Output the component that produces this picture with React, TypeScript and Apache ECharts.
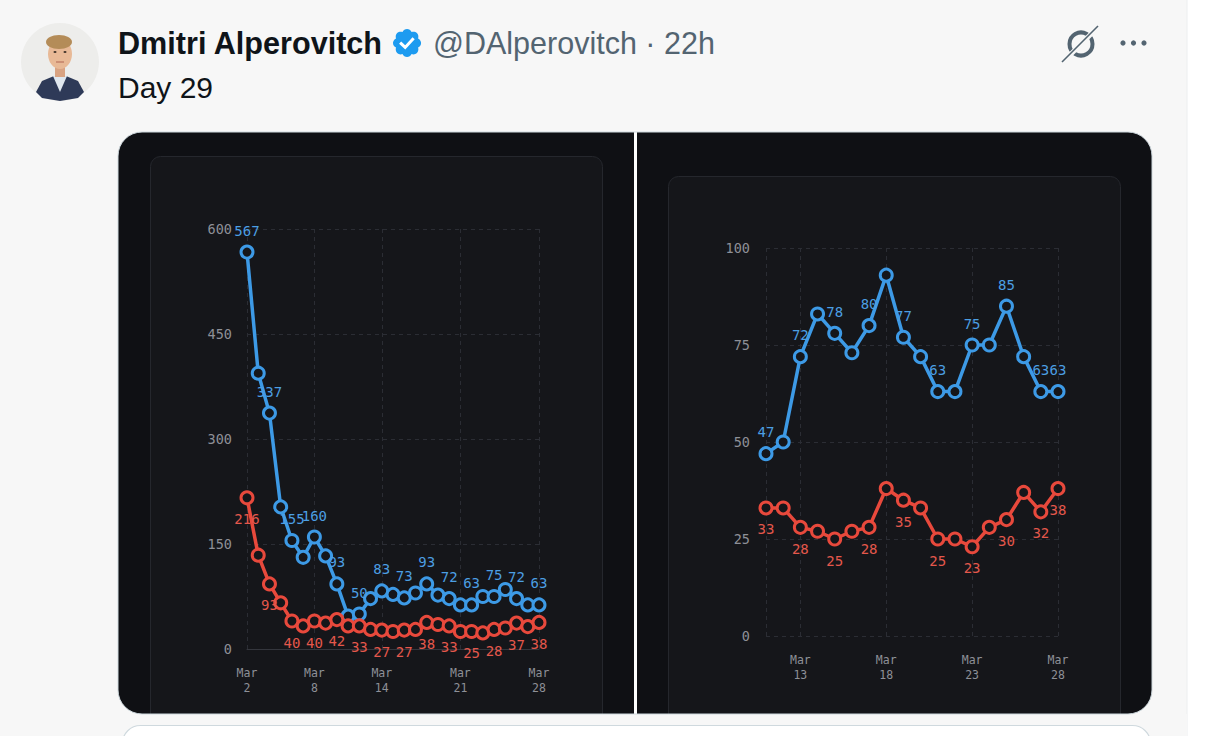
import React, { useEffect, useRef } from "react";
import * as echarts from "echarts";

// ---------- data ----------
const leftDates = ["Mar 2", "Mar 3", "Mar 4", "Mar 5", "Mar 6", "Mar 7", "Mar 8", "Mar 9", "Mar 10", "Mar 11", "Mar 12", "Mar 13", "Mar 14", "Mar 15", "Mar 16", "Mar 17", "Mar 18", "Mar 19", "Mar 20", "Mar 21", "Mar 22", "Mar 23", "Mar 24", "Mar 25", "Mar 26", "Mar 27", "Mar 28"];
const leftBlue = [567, 394, 337, 203, 155, 131, 160, 133, 93, 47, 50, 72, 83, 78, 73, 80, 93, 77, 72, 63, 63, 75, 75, 85, 72, 63, 63];
const leftRed = [216, 134, 93, 66, 40, 33, 40, 37, 42, 33, 33, 28, 27, 25, 27, 28, 38, 35, 33, 25, 25, 23, 28, 30, 37, 32, 38];
const leftTickIdx = [0, 6, 12, 19, 26];
const leftYMax = 600;
const leftYStep = 150;

const rightDates = ["Mar 11", "Mar 12", "Mar 13", "Mar 14", "Mar 15", "Mar 16", "Mar 17", "Mar 18", "Mar 19", "Mar 20", "Mar 21", "Mar 22", "Mar 23", "Mar 24", "Mar 25", "Mar 26", "Mar 27", "Mar 28"];
const rightBlue = [47, 50, 72, 83, 78, 73, 80, 93, 77, 72, 63, 63, 75, 75, 85, 72, 63, 63];
const rightRed = [33, 33, 28, 27, 25, 27, 28, 38, 35, 33, 25, 25, 23, 28, 30, 37, 32, 38];
const rightTickIdx = [2, 7, 12, 17];
const rightGridIdx = [0, 2, 7, 12, 17];
const rightYMax = 100;
const rightYStep = 25;

// ---------- styles ----------
const MONO = '"DejaVu Sans Mono", monospace';
const SANS = '"Liberation Sans", Arial, sans-serif';
const BLUE = "#3d9ae6";
const BLUE_LABEL = "#4c9fe3";
const RED = "#e8493c";
const RED_LABEL = "#e4584c";
const AXIS_TEXT = "#8e9097";
const GRID_LINE = "#2b2d34";
const PAGE_BG = "#f7f7f7";
const MARKER_FILL = "#15161a";

const BADGE_PATH =
  "M22.25 12c0-1.43-.88-2.67-2.19-3.34.46-1.39.2-2.9-.81-3.91s-2.52-1.27-3.91-.81c-.66-1.31-1.91-2.19-3.34-2.19s-2.67.88-3.33 2.19c-1.4-.46-2.91-.2-3.92.81s-1.26 2.52-.8 3.910c-1.31.67-2.2 1.91-2.2 3.34s.89 2.67 2.2 3.34c-.46 1.39-.21 2.9.8 3.91s2.52 1.26 3.91.81c.67 1.31 1.91 2.19 3.34 2.19s2.68-.88 3.34-2.19c1.39.45 2.9.2 3.91-.81s1.27-2.52.81-3.91c1.31-.67 2.19-1.91 2.19-3.34z";
echarts.graphic.registerShape("badge", echarts.graphic.extendPath(BADGE_PATH, {}));

const labelFmt = (n: number) => (p: any) =>
  p.dataIndex % 2 === 0 || p.dataIndex === n - 1 ? String(p.value) : "";

function makeSeries(data: number[], xi: number, color: string, labelColor: string, pos: "top" | "bottom", name: string) {
  return {
    name,
    type: "line",
    xAxisIndex: xi,
    yAxisIndex: xi,
    data,
    symbol: "circle",
    symbolSize: 12,
    showAllSymbol: true,
    lineStyle: { color, width: 3.5 },
    itemStyle: { color: MARKER_FILL, borderColor: color, borderWidth: 3 },
    label: {
      show: true,
      position: pos,
      distance: 7,
      color: labelColor,
      fontSize: 14,
      fontFamily: MONO,
      formatter: labelFmt(data.length),
    },
    emphasis: { disabled: true },
    z: 3,
  };
}

function xAxisFor(gridIndex: number, dates: string[], labelIdx: number[], gridIdx: number[], showLine: boolean) {
  return {
    type: "category",
    gridIndex,
    data: dates,
    boundaryGap: false,
    axisTick: { show: false },
    axisLine: { show: showLine, lineStyle: { color: "#34363d", width: 1 } },
    axisLabel: {
      interval: (i: number) => labelIdx.includes(i),
      formatter: (v: string) => v.replace(" ", "\n"),
      color: AXIS_TEXT,
      fontSize: 11.5,
      lineHeight: 15,
      fontFamily: MONO,
      margin: 16,
    },
    splitLine: {
      show: true,
      interval: (i: number) => gridIdx.includes(i),
      lineStyle: { color: GRID_LINE, type: [4, 4], width: 1 },
    },
  };
}

function yAxisFor(gridIndex: number, max: number, step: number, margin: number) {
  return {
    type: "value",
    gridIndex,
    min: 0,
    max,
    interval: step,
    axisLine: { show: false },
    axisTick: { show: false },
    axisLabel: { color: AXIS_TEXT, fontSize: 13.5, fontFamily: MONO, margin },
    splitLine: { lineStyle: { color: GRID_LINE, type: [4, 4], width: 1 } },
  };
}

function buildGraphic() {
  const els: any[] = [
    // page and card backgrounds
    { type: "rect", z: -20, shape: { x: 0, y: 0, width: 1206, height: 736 }, style: { fill: PAGE_BG } },
    { type: "rect", z: -19, shape: { x: 1187, y: 0, width: 19, height: 736 }, style: { fill: "#ffffff" } },
    { type: "line", z: -19, shape: { x1: 1187, y1: 0, x2: 1187, y2: 736 }, style: { stroke: "#eceeef", lineWidth: 1 } },
    { type: "rect", z: -15, shape: { x: 118, y: 132, width: 1034, height: 582, r: 24 }, style: { fill: "#0f1014" } },
    { type: "rect", z: -14, shape: { x: 634, y: 132, width: 3, height: 582 }, style: { fill: "#ffffff" } },
    { type: "rect", z: -13, shape: { x: 150.5, y: 156.5, width: 452, height: 620, r: 10 }, style: { fill: "#15161a", stroke: "#25272d", lineWidth: 1 } },
    { type: "rect", z: -13, shape: { x: 668.5, y: 176.5, width: 452, height: 620, r: 10 }, style: { fill: "#15161a", stroke: "#25272d", lineWidth: 1 } },
    { type: "rect", z: -12, shape: { x: 100, y: 714, width: 1087, height: 30 }, style: { fill: PAGE_BG } },
    { type: "rect", z: -11, shape: { x: 118, y: 132, width: 1034, height: 582, r: 24 }, style: { fill: "none", stroke: "#cfd9de", lineWidth: 1 } },
    { type: "rect", z: -10, shape: { x: 122.5, y: 725.5, width: 1028, height: 60, r: 18 }, style: { fill: "#ffffff", stroke: "#cfd9de", lineWidth: 1.2 } },

    // avatar
    { type: "circle", z: 5, shape: { cx: 60, cy: 62, r: 39 }, style: { fill: "#ededeb" } },
    { type: "polygon", z: 6, shape: { points: [[36, 92], [42, 81], [54, 76], [66, 76], [78, 81], [84, 92], [78, 98], [60, 101], [42, 98]] }, style: { fill: "#2e3a58" } },
    { type: "polygon", z: 7, shape: { points: [[53, 76], [60, 92], [67, 76]] }, style: { fill: "#dfe7ef" } },
    { type: "rect", z: 7, shape: { x: 55, y: 64, width: 10, height: 13 }, style: { fill: "#d9a382" } },
    { type: "ellipse", z: 8, shape: { cx: 60, cy: 54, rx: 12, ry: 15 }, style: { fill: "#e8b996" } },
    { type: "ellipse", z: 9, shape: { cx: 59, cy: 42, rx: 13, ry: 7 }, style: { fill: "#b48c58" } },
    { type: "ellipse", z: 9, shape: { cx: 55, cy: 52, rx: 1.5, ry: 1 }, style: { fill: "#4a3a30" } },
    { type: "ellipse", z: 9, shape: { cx: 65, cy: 52, rx: 1.5, ry: 1 }, style: { fill: "#4a3a30" } },
    { type: "line", z: 9, shape: { x1: 56, y1: 62, x2: 64, y2: 62 }, style: { stroke: "#b9735e", lineWidth: 1.2 } },

    // header texts
    { type: "text", z: 10, x: 118, y: 43, style: { text: "Dmitri Alperovitch", font: `bold 30.6px ${SANS}`, fill: "#0f1419", textVerticalAlign: "middle", verticalAlign: "middle" } },
    { type: "badge", z: 10, x: 390.6, y: 26.6, scaleX: 1.37, scaleY: 1.37, style: { fill: "#1d9bf0" } },
    { type: "polyline", z: 11, shape: { points: [[401.2, 43.6], [405.2, 47.4], [412.6, 39.4]] }, style: { stroke: "#ffffff", lineWidth: 3, fill: "none", lineCap: "square" } },
    { type: "text", z: 10, x: 433, y: 43, style: { text: "@DAlperovitch · 22h", font: `30.5px ${SANS}`, fill: "#536471", textVerticalAlign: "middle", verticalAlign: "middle" } },
    { type: "text", z: 10, x: 118, y: 87, style: { text: "Day 29", font: `30px ${SANS}`, fill: "#0f1419", textVerticalAlign: "middle", verticalAlign: "middle" } },

    // right icons
    { type: "circle", z: 10, shape: { cx: 1081, cy: 44, r: 11.5 }, style: { fill: "none", stroke: "#536471", lineWidth: 4 } },
    { type: "line", z: 11, shape: { x1: 1066, y1: 59, x2: 1096, y2: 29 }, style: { stroke: PAGE_BG, lineWidth: 5 } },
    { type: "line", z: 12, shape: { x1: 1062, y1: 62, x2: 1098, y2: 26 }, style: { stroke: "#536471", lineWidth: 1.6 } },
    { type: "circle", z: 10, shape: { cx: 1123, cy: 43, r: 2.6 }, style: { fill: "#536471" } },
    { type: "circle", z: 10, shape: { cx: 1133.5, cy: 43, r: 2.6 }, style: { fill: "#536471" } },
    { type: "circle", z: 10, shape: { cx: 1144, cy: 43, r: 2.6 }, style: { fill: "#536471" } },
  ];
  return els;
}

export default function App() {
  const ref = useRef<HTMLDivElement>(null);
  useEffect(() => {
    if (!ref.current) return;
    const chart = echarts.init(ref.current, null, { renderer: "svg" });
    chart.setOption({
      animation: false,
      backgroundColor: PAGE_BG,
      textStyle: { fontFamily: MONO },
      graphic: { elements: buildGraphic() },
      grid: [
        { left: 247, right: 1206 - 539, top: 229, bottom: 736 - 649, containLabel: false },
        { left: 766, right: 1206 - 1058, top: 248, bottom: 736 - 636, containLabel: false },
      ],
      xAxis: [
        xAxisFor(0, leftDates, leftTickIdx, leftTickIdx, true),
        xAxisFor(1, rightDates, rightTickIdx, rightGridIdx, false),
      ],
      yAxis: [
        yAxisFor(0, leftYMax, leftYStep, 15),
        yAxisFor(1, rightYMax, rightYStep, 16),
      ],
      series: [
        makeSeries(leftBlue, 0, BLUE, BLUE_LABEL, "top", "Blue (all days)"),
        makeSeries(leftRed, 0, RED, RED_LABEL, "bottom", "Red (all days)"),
        makeSeries(rightBlue, 1, BLUE, BLUE_LABEL, "top", "Blue (since Mar 11)"),
        makeSeries(rightRed, 1, RED, RED_LABEL, "bottom", "Red (since Mar 11)"),
      ],
    });
    return () => chart.dispose();
  }, []);
  return (
    <div
      ref={ref}
      style={{ position: "absolute", left: 0, top: 0, width: 1206, height: 736 }}
    />
  );
}
